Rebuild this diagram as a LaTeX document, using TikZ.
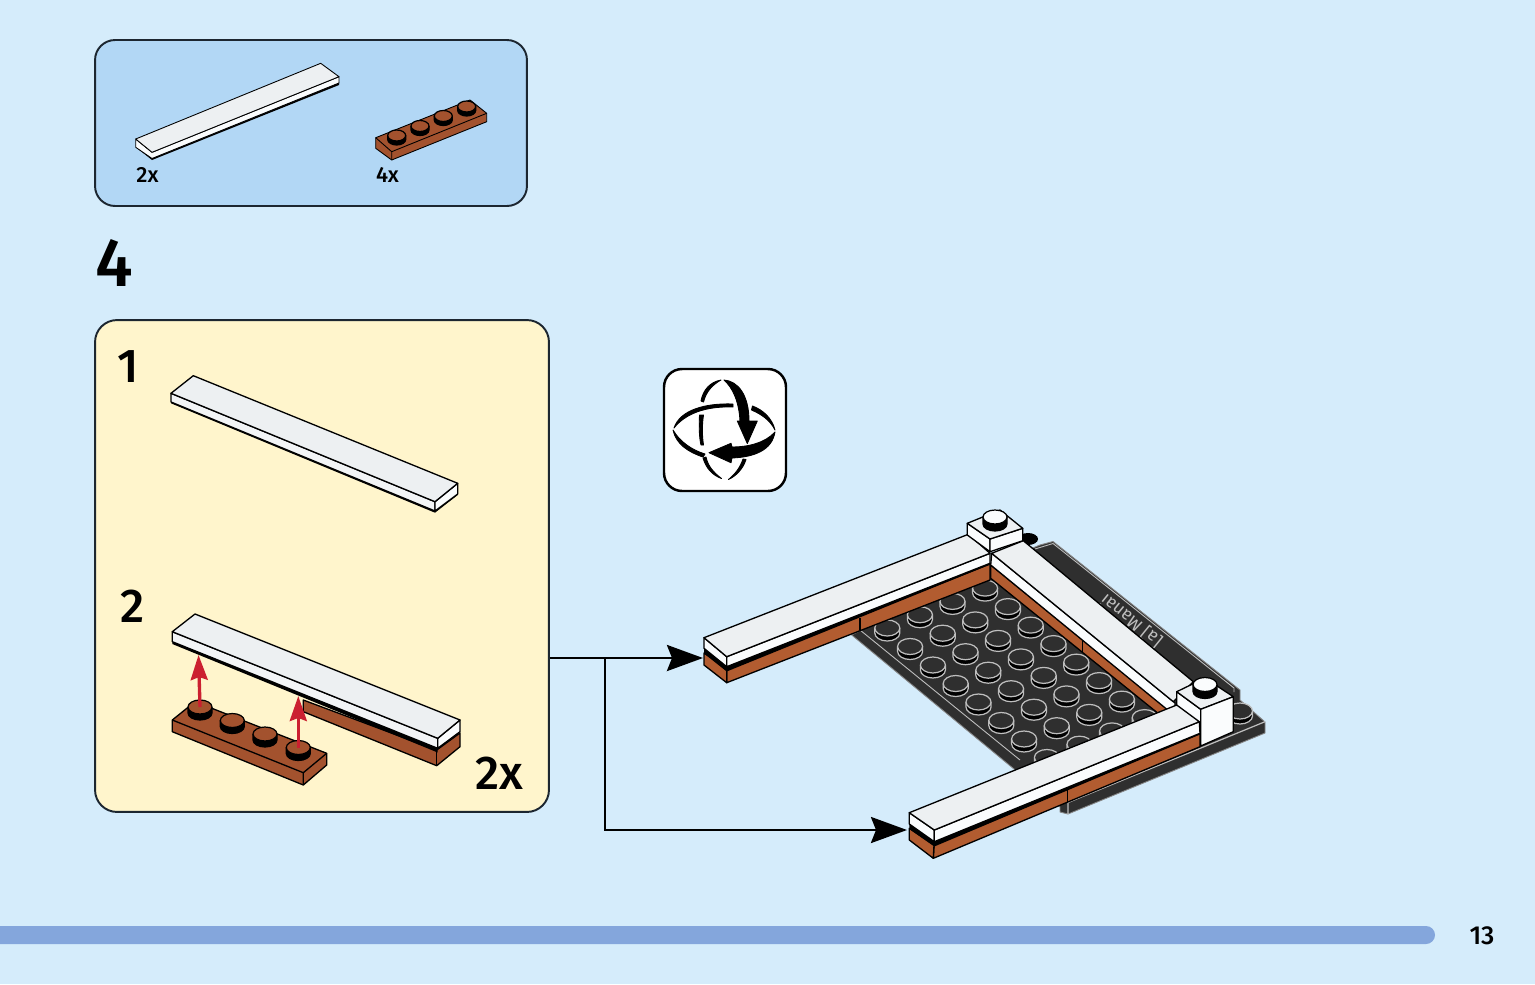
\documentclass[tikz,border=0pt]{standalone}
\usepackage{fontspec}
\setmainfont{Fira Sans Medium}
\newfontfamily\platefont{Fira Sans}
\usetikzlibrary{arrows.meta,calc,positioning}
\definecolor{my_page}{RGB}{213, 236, 251}
\definecolor{my_parts}{RGB}{178, 215, 245}
\definecolor{my_panel}{RGB}{255, 245, 204}
\definecolor{my_line}{RGB}{28, 38, 48}
\definecolor{my_top}{RGB}{237, 240, 242}
\definecolor{my_side}{RGB}{250, 252, 253}
\definecolor{my_brown}{RGB}{178, 92, 48}
\definecolor{my_dkbrown}{RGB}{163, 82, 46}
\definecolor{my_plate}{RGB}{47, 47, 47}
\definecolor{my_rim}{RGB}{190, 190, 190}
\definecolor{my_red}{RGB}{203, 32, 48}
\definecolor{my_bar}{RGB}{132, 166, 220}
\tikzset{
  brick/.style = {draw=black, line width=0.75pt, line join=round},
  tiletop/.style = {brick, fill=my_top},
  tileside/.style = {brick, fill=my_side},
  brownface/.style = {brick, fill=my_brown},
  darkface/.style = {brick, fill=my_dkbrown},
  roundbox/.style = {draw=my_line, line width=1.1pt, rounded corners=0.4cm, inner sep=0pt},
  steplabel/.style = {inner sep=0pt, font=\fontsize{27}{30}\selectfont},
  countlabel/.style = {inner sep=0pt, font=\fontsize{12.5}{14}\selectfont},
  flowline/.style = {draw=black, line width=1.6pt, -{Stealth[length=0.72cm,width=0.52cm,inset=0.1cm]}},
  liftline/.style = {draw=my_red, line width=1.9pt, -{Stealth[length=0.5cm,width=0.34cm,inset=0.06cm]}},
  arcpiece/.style = {fill=black, draw=black, line width=0.5pt, line join=round}
}
% round stud: top colour, rim colour, x, y, x radius, y radius, height
\newcommand{\studat}[7]{
  \fill[black] (#3-#5,#4) -- (#3-#5,#4+#7) arc[start angle=180, end angle=360, x radius=#5, y radius=-#6] -- (#3+#5,#4) -- cycle;
  \draw[#2, line width=0.7pt] (#3-#5,#4) -- (#3-#5,#4+#7) arc[start angle=180, end angle=360, x radius=#5, y radius=-#6] -- (#3+#5,#4);
  \draw[#2, fill=#1, line width=0.7pt] (#3,#4) ellipse[x radius=#5, y radius=#6];
}
\begin{document}
\begin{tikzpicture}[x=0.02cm, y=-0.02cm]
  \useasboundingbox (0,0) rectangle (1535,984);
  \fill[my_page] (0,0) rectangle (1535,984);

  % parts list
  \node [roundbox, fill=my_parts, minimum width=8.64cm, minimum height=3.32cm] (partsbox) at (311,123) {};
  \fill[black] (135.7,147) -- (152,160) -- (339,85) -- (339,82) -- (152,157) -- cycle;
  \filldraw[tileside, line width=0.5pt] (135.7,139) -- (152,152.3) -- (339,76.7) -- (339,83) -- (152,158.5) -- (135.7,147.3) -- cycle;
  \filldraw[tiletop, line width=0.5pt] (135.7,139) -- (320.7,63.3) -- (339,76.7) -- (152,152.3) -- cycle;
  \filldraw[darkface, line width=0.5pt] (375.7,137.7) -- (470,100) -- (486.7,113.3) -- (486.7,121.7) -- (391.7,160) -- (375.7,148.3) -- cycle;
  \draw[brick, line width=0.5pt] (375.7,137.7) -- (391.7,151.7) -- (486.7,113.3) (391.7,151.7) -- (391.7,160);
  \foreach \px/\py in {396.7/135.5, 420/126, 443.3/116, 466.7/106.5}
    \studat{my_dkbrown}{black}{\px}{\py}{9}{5.5}{4};
  \node [countlabel] (count2x) at (147.5,175) {2x};
  \node [countlabel] (count4x) at (387.5,175) {4x};

  % step number and sub assembly
  \node [inner sep=0pt, font=\fontsize{39}{42}\selectfont] (stepnum) at (114.5,262.5) {4};
  \node [roundbox, fill=my_panel, rounded corners=0.44cm, minimum width=9.08cm, minimum height=9.84cm] (subpanel) at (322,566) {};
  \node [steplabel] (sub1) at (128,367) {1};
  \node [steplabel] (sub2) at (132.5,606) {2};
  \node [steplabel] (times2) at (499.5,773) {2x};

  \fill[black] (171,403.3) -- (435,512.7) -- (457.7,495) -- (457.7,492) -- (435,509) -- (171,400) -- cycle;
  \filldraw[tileside, fill=my_top!70!white] (171,393.3) -- (435,501.7) -- (435,511) -- (171,402) -- cycle;
  \filldraw[tileside] (435,501.7) -- (457.7,483.3) -- (457.7,494) -- (435,511) -- cycle;
  \filldraw[tiletop] (171,393.3) -- (193.3,375.7) -- (457.7,483.3) -- (435,501.7) -- cycle;

  \filldraw[darkface] (303.3,700) -- (303.3,711.7) -- (436.7,765.7) -- (460,746.7) -- (460,733) -- (436.7,750) -- cycle;
  \draw[brick] (436.7,752) -- (436.7,765.7);
  \fill[black] (172.3,641.7) -- (437.7,748.3) -- (437.7,752.5) -- (172.3,644) -- cycle;
  \filldraw[tileside, fill=my_top!70!white] (172.3,631.7) -- (437.7,738.3) -- (437.7,748.3) -- (172.3,641.7) -- cycle;
  \filldraw[tileside] (437.7,738.3) -- (460,720) -- (460,731.7) -- (437.7,748.3) -- cycle;
  \filldraw[tiletop] (172.3,631.7) -- (195,614) -- (460,720) -- (437.7,738.3) -- cycle;

  \filldraw[darkface] (172.3,720) -- (195,701.7) -- (326.7,753.3) -- (326.7,765) -- (303.3,785) -- (172.3,731.7) -- cycle;
  \draw[brick] (172.3,720) -- (303.3,772.7) -- (326.7,753.3) (303.3,772.7) -- (303.3,785);
  \foreach \px/\py in {200/707, 232.3/720.5, 265/734, 298.3/747.5}
    \studat{my_dkbrown}{black}{\px}{\py}{12}{7}{6};
  \coordinate (lift1s) at (200,707);
  \coordinate (lift1e) at (198.5,655);
  \coordinate (lift2s) at (298.3,748);
  \coordinate (lift2e) at (298.3,696);
  \draw[liftline] (lift1s) -- (lift1e);
  \draw[liftline] (lift2s) -- (lift2e);

  % turn over icon
  \node [draw=black, fill=white, line width=1.4pt, rounded corners=0.36cm, inner sep=0pt, minimum size=2.44cm] (turnbox) at (725,430) {};
  \filldraw[arcpiece] (674,428) .. controls (680,410) and (705,403) .. (733,404) -- (733,407) .. controls (705,406) and (685,414) .. (674,428) -- cycle;
  \filldraw[arcpiece] (752.5,406) .. controls (763,410) and (772,418) .. (775,430) .. controls (770,420) and (761,414) .. (751.5,410) -- cycle;
  \filldraw[arcpiece] (673,430) .. controls (680,442) and (692,450) .. (705,454) -- (703,457) .. controls (688,452) and (676,444) .. (673,430) -- cycle;
  \filldraw[arcpiece] (775,432) .. controls (772,450) and (755,457) .. (732,458) -- (731,462.7) -- (709,452.7) -- (731,443.3) -- (732,447) .. controls (748,447) and (765,443) .. (775,432) -- cycle;
  \filldraw[arcpiece] (721,380) .. controls (710,382) and (703,390) .. (701,401) -- (703.5,402) .. controls (706,392) and (712,385) .. (721,380) -- cycle;
  \filldraw[arcpiece] (699.5,415) .. controls (699,425) and (699,437) .. (701,445) -- (703.5,445) .. controls (702,435) and (702,425) .. (703.5,415) -- cycle;
  \filldraw[arcpiece] (703,458) .. controls (706,468) and (712,475) .. (721.5,478.5) .. controls (713,472) and (708,466) .. (706,457) -- cycle;
  \filldraw[arcpiece] (728.5,479.5) .. controls (736,476) and (743,469) .. (746,459.5) -- (743,459) .. controls (740,468) and (735,474) .. (728.5,479.5) -- cycle;
  \filldraw[arcpiece] (724,380) .. controls (738,381) and (749,395) .. (749,421) -- (757.3,421) -- (747.3,443.5) -- (737.3,421) -- (740,421) .. controls (739,402) and (733,388) .. (724,380) -- cycle;

  % base plate
  \fill[black] (1028,539) ellipse[x radius=10, y radius=6];
  \filldraw[fill=my_plate, draw=my_rim!60!my_plate, line width=0.5pt] (851.7,635) -- (1060,807) -- (1060,812) -- (1068,814) -- (1265,733) -- (1265,722) -- (1240,700) -- (1240,690) -- (1053,541.5) -- (1040,545) -- (990,566) -- cycle;
  \draw[my_rim, line width=0.5pt] (860,630) -- (1020,760);
  \draw[my_rim, line width=0.5pt] (1035,549) -- (1053,543.5) -- (1234,688) -- (1234,692);
  \draw[my_rim, line width=0.7pt] (1068,814) -- (1068,802.5) -- (1265,721.7);
  \node [inner sep=0pt, text=my_rim, rotate=141, font=\platefont\fontsize{10}{11}\selectfont] (platetext) at (1131,621) {[a] Manai};
  \foreach \i in {0,...,3}
    \foreach \j in {0,...,8} {
      \pgfmathsetmacro{\px}{887.3+32.6*\i+22.8*\j}
      \pgfmathsetmacro{\py}{628+(-13.3)*\i+18.5*\j}
      \studat{my_plate}{my_rim}{\px}{\py}{12.5}{8}{5};
    }
  \studat{my_plate}{my_rim}{1240}{711}{12.5}{8}{5};

  % far bar
  \filldraw[brownface] (990.7,565) -- (1175,715) -- (1175,727) -- (990.7,578.3) -- cycle;
  \draw[brick] (1082.7,640) -- (1082.7,651.7);
  \filldraw[tileside] (991.7,553.3) -- (1175,703) -- (1175,716) -- (990.7,565) -- cycle;
  \filldraw[tiletop] (991.7,553.3) -- (1023.3,540.7) -- (1193.3,681.7) -- (1173.3,701.7) -- cycle;

  % left bar
  \filldraw[brownface] (726.7,668) -- (990,564) -- (990,580) -- (726.7,682.7) -- cycle;
  \filldraw[brownface] (704,653) -- (726.7,668) -- (726.7,682.7) -- (704,665) -- cycle;
  \draw[brick] (860,618) -- (860,630);
  \fill[black] (704,648.3) -- (726.7,666.7) -- (990,563.3) -- (990,564.5) -- (726.7,671.5) -- (704,653.5) -- cycle;
  \filldraw[tileside] (704,637.7) -- (726.7,656.7) -- (726.7,666.7) -- (704,648.3) -- cycle;
  \filldraw[tileside] (726.7,656.7) -- (990,553.3) -- (990,563.3) -- (726.7,666.7) -- cycle;
  \filldraw[tiletop] (704,637.7) -- (968.3,534.3) -- (990,553.3) -- (726.7,656.7) -- cycle;

  % top corner brick
  \filldraw[tileside] (967.3,523.3) -- (990,539) -- (990,551.7) -- (967.3,535) -- cycle;
  \filldraw[tileside] (990,539) -- (1022.7,528.3) -- (1022.7,540.7) -- (990,551.7) -- cycle;
  \filldraw[tiletop] (967.3,523.3) -- (1000,510) -- (1022.7,528.3) -- (990,539) -- cycle;
  \studat{my_side}{black}{995}{517}{12}{7}{7};

  % front bar and lower corner brick
  \filldraw[tileside] (1176.7,691.7) -- (1200.7,709.3) -- (1200.7,725) -- (1176.7,708) -- cycle;
  \filldraw[tiletop] (1176.7,691.7) -- (1205,678) -- (1233.3,696.7) -- (1200.7,709.3) -- cycle;
  \filldraw[brownface] (934,845) -- (1200,733.3) -- (1200,746.7) -- (933.3,858.3) -- cycle;
  \filldraw[brownface] (909.3,828.3) -- (934,845) -- (933.3,858.3) -- (909.3,840) -- cycle;
  \draw[brick] (1067.7,790) -- (1067.7,801.7);
  \fill[black] (909.3,824) -- (934.3,841.7) -- (1200,733.3) -- (1200,734.5) -- (934.3,846.5) -- (909.3,829) -- cycle;
  \filldraw[tileside] (909.3,812.7) -- (934.3,830) -- (934.3,841.7) -- (909.3,824) -- cycle;
  \filldraw[tileside] (934.3,830) -- (1199.3,721.7) -- (1200,733.3) -- (934.3,841.7) -- cycle;
  \filldraw[tiletop] (909.3,812.7) -- (1176.7,705) -- (1199.3,721.7) -- (934.3,830) -- cycle;
  \filldraw[tileside] (1200.7,709.3) -- (1233.3,696.7) -- (1233.3,731.7) -- (1200.7,746) -- cycle;
  \studat{my_side}{black}{1205}{684.5}{12}{7}{7};

  % connectors
  \coordinate (bartip1) at (703,658);
  \coordinate (bartip2) at (907,830);
  \coordinate (branch) at (605,658);
  \draw[flowline] (subpanel.east |- bartip1) -- (bartip1);
  \draw[flowline] (branch) |- (bartip2);

  % page foot
  \fill[my_bar, rounded corners=0.18cm] (-20,926) rectangle (1435,944);
  \node [inner sep=0pt, font=\fontsize{14.8}{16}\selectfont] (pagenum) at (1482,936) {13};
\end{tikzpicture}
\end{document}
